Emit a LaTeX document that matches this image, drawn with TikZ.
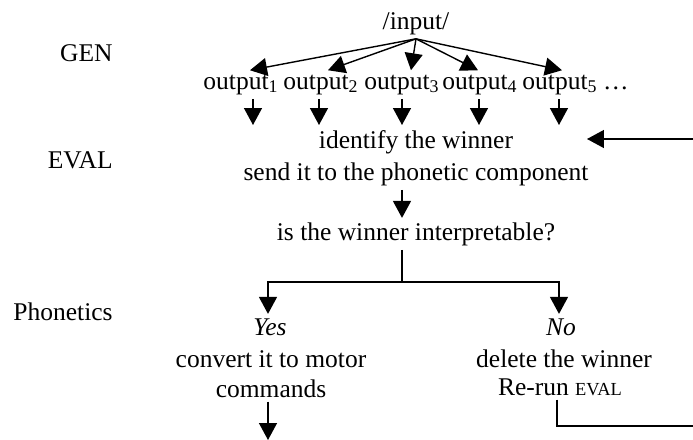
\documentclass[tikz,border=0pt]{standalone}
\usepackage{fontspec}
\setmainfont{Liberation Serif}
\usetikzlibrary{arrows.meta,calc}
\newcommand\mainsz{\fontsize{12.75}{15}\selectfont}
\newcommand\scsz{\fontsize{9.2}{11}\selectfont}
\begin{document}
\begin{tikzpicture}[x=0.5pt,y=-0.5pt,
  txt/.style={inner sep=2pt,anchor=base,font=\mainsz},
  side/.style={inner sep=0pt,anchor=base east,font=\mainsz},
  arr/.style={line width=0.7pt,-{Triangle[width=9pt,length=8.5pt]}},
  ln/.style={line width=0.7pt}]
\useasboundingbox (0,0) rectangle (693,440);
% stage labels
\node[side] (gen) at (113,61) {GEN};
\node[side] (eval) at (113,168) {EVAL};
\node[side] (phon) at (113,320) {Phonetics};
% GEN
\node[txt] (in) at (416,29) {/input/};
\node[txt] (o1) at (241,89) {output\textsubscript{1}};
\node[txt] (o2) at (321,89) {output\textsubscript{2}};
\node[txt] (o3) at (402,89) {output\textsubscript{3}};
\node[txt] (o4) at (480,89) {output\textsubscript{4}};
\node[txt] (o5) at (560,89) {output\textsubscript{5}};
\node[txt] (dots) at (616,89) {…};
\draw[arr] (in.south) -- ($(o1.north)+(9,0)$);
\draw[arr] (in.south) -- ($(o2.north)+(7,0)$);
\draw[arr] (in.south) -- ($(o3.north)+(9,0)$);
\draw[arr] (in.south) -- ($(o4.north)+(-2,0)$);
\draw[arr] (in.south) -- ($(o5.north)+(2,0)$);
% down arrows into EVAL
\coordinate (d1) at (253,125);
\coordinate (d2) at (319,125);
\coordinate (d3) at (402,125);
\coordinate (d4) at (479,125);
\coordinate (d5) at (559,125);
\draw[arr] (o1.south -| d1) -- (d1);
\draw[arr] (o2.south -| d2) -- (d2);
\draw[arr] (o3.south -| d3) -- (d3);
\draw[arr] (o4.south -| d4) -- (d4);
\draw[arr] (o5.south -| d5) -- (d5);
% EVAL
\node[txt] (id) at (416,148) {identify the winner};
\node[txt] (send) at (416,180) {send it to the phonetic component};
\node[txt] (q) at (416,240) {is the winner interpretable?};
\coordinate (col) at (402,0);
\draw[arr] (send.south -| col) -- (q.north -| col);
% Phonetics
\node[txt] (yes) at (270,335) {\textit{Yes}};
\node[txt] (conv) at (271,367) {convert it to motor};
\node[txt] (cmd) at (271,397) {commands};
\node[txt] (no) at (561,335) {\textit{No}};
\node[txt] (del) at (564,367) {delete the winner};
\node[txt] (rerun) at (560,395) {Re-run {\scsz EVAL}};
\coordinate (br) at (402,282);
\coordinate (yesx) at (268,0);
\coordinate (nox) at (559,0);
\draw[ln] (q.south -| col) -- (br);
\draw[arr] (br) -| (yes.north -| yesx);
\draw[arr] (br) -| (no.north -| nox);
\coordinate (out) at (268,440);
\draw[arr] (cmd.south -| yesx) -- (out);
% return loop to EVAL
\coordinate (retx) at (557,0);
\coordinate (rA) at (698,426);
\coordinate (rB) at (698,139);
\coordinate (evin) at (587,139);
\draw[arr] (rerun.south -| retx) |- (rA) -- (rB) -- (evin);
\end{tikzpicture}
\end{document}
